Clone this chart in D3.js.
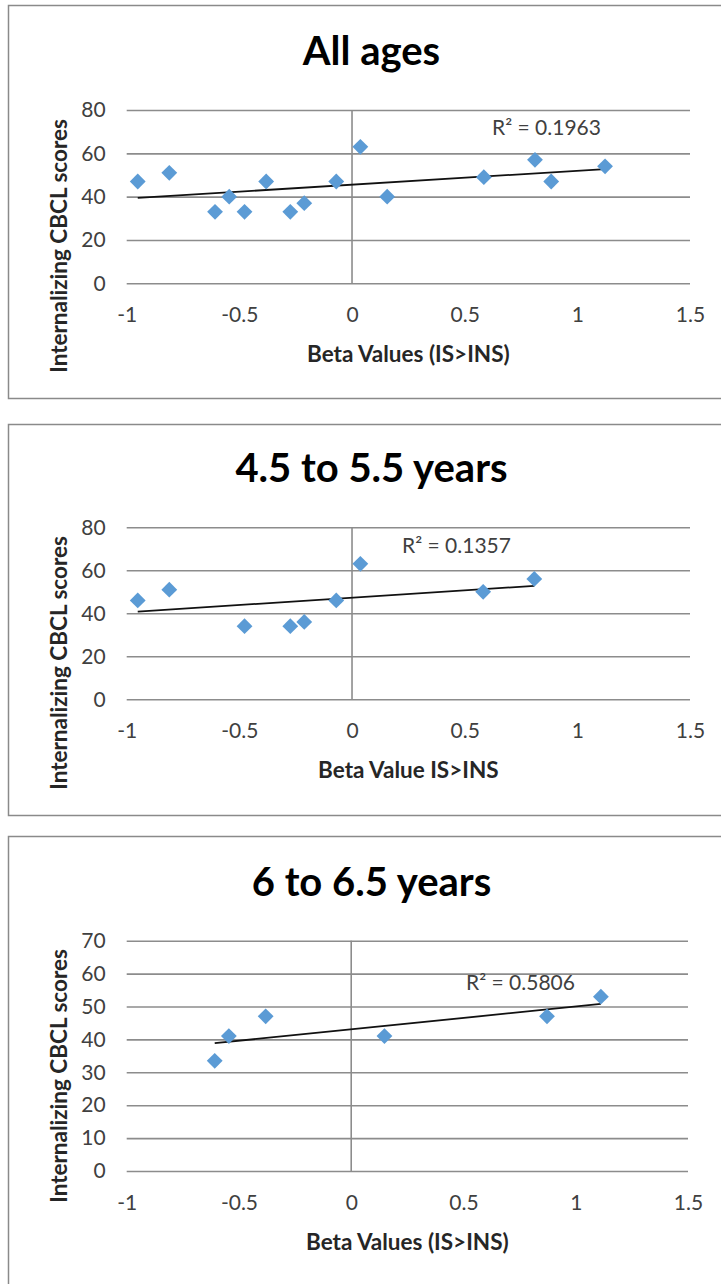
<!DOCTYPE html>
<html><head><meta charset="utf-8">
<script src="https://cdn.jsdelivr.net/npm/d3@7"></script>
<style>body{margin:0;background:#fff}svg{display:block}</style>
</head><body><svg id="c" width="721" height="1284"></svg>
<script>
// ---- data ----
const titles = ["All ages", "4.5 to 5.5 years", "6 to 6.5 years"];
const xTitles = ["Beta Values (IS>INS)", "Beta Value IS>INS", "Beta Values (IS>INS)"];
const yTitle = "Internalizing CBCL scores";
const r2Labels = ["R\u00B2 = 0.1963", "R\u00B2 = 0.1357", "R\u00B2 = 0.5806"];
const xTicks = [-1, -0.5, 0, 0.5, 1, 1.5];
const yTicksA = [0, 20, 40, 60, 80];
const yTicksB = [0, 20, 40, 60, 80];
const yTicksC = [0, 10, 20, 30, 40, 50, 60, 70];

const betaAll  = [-0.951, -0.811, -0.608, -0.545, -0.477, -0.381, -0.274, -0.212, -0.070, 0.037, 0.156, 0.585, 0.812, 0.884, 1.123];
const scoreAll = [47, 51, 33, 40, 33, 47, 33, 37, 47, 63, 40, 49, 57, 47, 54];

const beta45  = [-0.951, -0.811, -0.477, -0.274, -0.212, -0.070, 0.037, 0.582, 0.809];
const score45 = [46, 51, 34, 34, 36, 46, 63, 50, 56];

const beta6  = [-0.608, -0.545, -0.381, 0.148, 0.872, 1.112];
const score6 = [33.5, 41, 47, 41, 47, 53];

// ---- layout ----
const FONT = "Lato, 'Open Sans', sans-serif";
const panels = [
  {title: titles[0], xTitle: xTitles[0], r2: r2Labels[0], yTicks: yTicksA, beta: betaAll, score: scoreAll,
   boxTop: 5, boxBottom: 398, plotTop: 110, plotBottom: 283.3, plotRight: 690,
   titleY: 65, r2X: 546.5, r2Y: 135, yTitleY: 246},
  {title: titles[1], xTitle: xTitles[1], r2: r2Labels[1], yTicks: yTicksB, beta: beta45, score: score45,
   boxTop: 424, boxBottom: 815, plotTop: 527.3, plotBottom: 699.3, plotRight: 690,
   titleY: 482, r2X: 456.5, r2Y: 553, yTitleY: 663},
  {title: titles[2], xTitle: xTitles[2], r2: r2Labels[2], yTicks: yTicksC, beta: beta6, score: score6,
   boxTop: 836, boxBottom: 1300, plotTop: 940.7, plotBottom: 1171, plotRight: 688,
   titleY: 896, r2X: 520.5, r2Y: 990, yTitleY: 1076}
];
const plotLeft = 126.7;

const svg = d3.select("#c");
svg.append("rect").attr("width", 721).attr("height", 1284).attr("fill", "#fff");

panels.forEach(p => {
  const g = svg.append("g");
  // panel frame
  g.append("rect").attr("x", 8.5).attr("y", p.boxTop + 0.5)
    .attr("width", 730).attr("height", p.boxBottom - p.boxTop)
    .attr("fill", "none").attr("stroke", "#8a8a8a").attr("stroke-width", 1.5);

  const x = d3.scaleLinear().domain([xTicks[0], xTicks[xTicks.length - 1]]).range([plotLeft, p.plotRight]);
  const y = d3.scaleLinear().domain([0, d3.max(p.yTicks)]).range([p.plotBottom, p.plotTop]);

  // horizontal gridlines + y tick labels
  g.append("g").attr("transform", `translate(${plotLeft},0)`)
    .call(d3.axisLeft(y).tickValues(p.yTicks).tickSize(-(p.plotRight - plotLeft)).tickFormat(d3.format("d")).tickPadding(21))
    .call(a => a.select(".domain").remove())
    .call(a => a.selectAll(".tick line").attr("stroke", "#8c8c8c").attr("stroke-width", 1.6))
    .call(a => a.selectAll(".tick text").attr("font-family", FONT).attr("font-size", 21).attr("fill", "#404040"));

  // vertical axis at x = 0
  g.append("line").attr("x1", x(0)).attr("x2", x(0)).attr("y1", p.plotTop).attr("y2", p.plotBottom)
    .attr("stroke", "#8c8c8c").attr("stroke-width", 1.6);

  // x tick labels
  g.append("g").attr("transform", `translate(0,${p.plotBottom})`)
    .call(d3.axisBottom(x).tickValues(xTicks).tickSize(0).tickPadding(24).tickFormat(d => String(d)))
    .call(a => a.select(".domain").remove())
    .call(a => a.selectAll(".tick text").attr("font-family", FONT).attr("font-size", 21).attr("fill", "#404040"));

  // trendline (least squares)
  const n = p.beta.length;
  const mx = d3.mean(p.beta), my = d3.mean(p.score);
  let sxy = 0, sxx = 0;
  for (let i = 0; i < n; i++) { sxy += (p.beta[i] - mx) * (p.score[i] - my); sxx += (p.beta[i] - mx) ** 2; }
  const slope = sxy / sxx, icpt = my - slope * mx;
  const [x0, x1] = d3.extent(p.beta);
  g.append("line").attr("x1", x(x0)).attr("y1", y(icpt + slope * x0))
    .attr("x2", x(x1)).attr("y2", y(icpt + slope * x1))
    .attr("stroke", "#111").attr("stroke-width", 1.8);

  // markers
  const sym = d3.symbol(d3.symbolSquare, 125);
  g.append("g").selectAll("path").data(p.beta.map((b, i) => [b, p.score[i]])).join("path")
    .attr("d", sym)
    .attr("transform", d => `translate(${x(d[0])},${y(d[1])}) rotate(45)`)
    .attr("fill", "#5b9bd5");

  // R² label
  g.append("text").attr("x", p.r2X).attr("y", p.r2Y).attr("text-anchor", "middle")
    .attr("font-family", FONT).attr("font-size", 21).attr("fill", "#404040").text(p.r2);

  // chart title
  g.append("text").attr("x", 371.5).attr("y", p.titleY).attr("text-anchor", "middle")
    .attr("font-family", FONT).attr("font-weight", "bold").attr("font-size", 40).attr("fill", "#000").text(p.title);

  // x-axis title
  g.append("text").attr("x", (plotLeft + p.plotRight) / 2).attr("y", p.plotBottom + 79).attr("text-anchor", "middle")
    .attr("font-family", FONT).attr("font-weight", "bold").attr("font-size", 22.5).attr("fill", "#262626").text(p.xTitle);

  // y-axis title
  g.append("text").attr("transform", `translate(67,${p.yTitleY}) rotate(-90)`).attr("text-anchor", "middle")
    .attr("font-family", FONT).attr("font-weight", "bold").attr("font-size", 22.5).attr("fill", "#262626").text(yTitle);
});
</script>
</body></html>
